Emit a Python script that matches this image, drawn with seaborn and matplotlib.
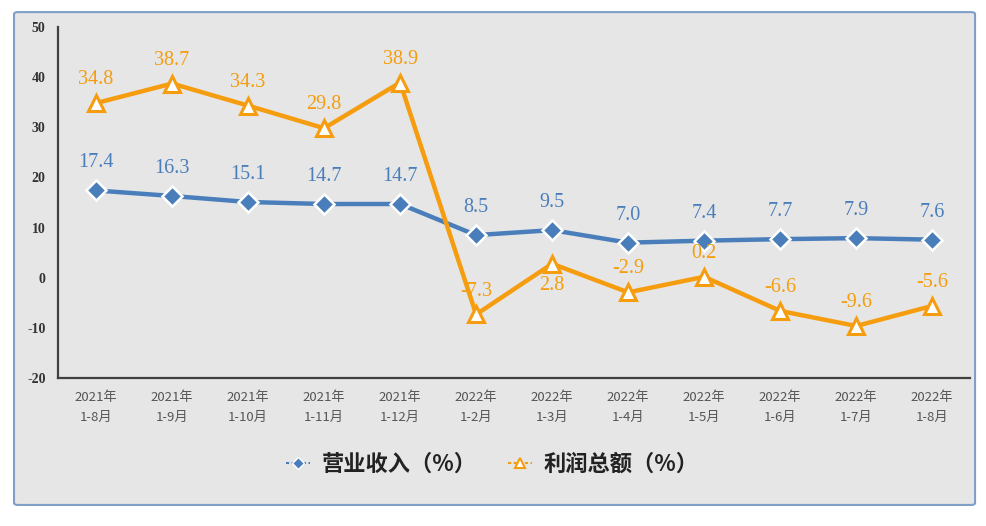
import matplotlib
matplotlib.use("Agg")
import matplotlib.pyplot as plt
import seaborn as sns
import pandas as pd
from matplotlib.patches import FancyBboxPatch
from matplotlib.lines import Line2D

# ------------------------------
# Données
periods = ["2021年\n1-8月", "2021年\n1-9月", "2021年\n1-10月", "2021年\n1-11月", "2021年\n1-12月",
           "2022年\n1-2月", "2022年\n1-3月", "2022年\n1-4月", "2022年\n1-5月", "2022年\n1-6月",
           "2022年\n1-7月", "2022年\n1-8月"]
revenue = [17.4, 16.3, 15.1, 14.7, 14.7, 8.5, 9.5, 7.0, 7.4, 7.7, 7.9, 7.6]
profit = [34.8, 38.7, 34.3, 29.8, 38.9, -7.3, 2.8, -2.9, 0.2, -6.6, -9.6, -5.6]
series_names = ["营业收入（%）", "利润总额（%）"]
y_ticks = [-20, -10, 0, 10, 20, 30, 40, 50]

blue = "#4a7ebb"
orange = "#f59d0e"
bg = "#e6e6e6"

sns.set_theme(style="white")
plt.rcParams['font.family'] = ['Noto Sans CJK SC', 'DejaVu Sans']

df = pd.DataFrame({"x": list(range(len(periods))) * 2,
                   "val": revenue + profit,
                   "serie": [series_names[0]] * len(periods) + [series_names[1]] * len(periods)})

fig = plt.figure(figsize=(9.87, 5.26), dpi=100)
fig.patch.set_facecolor("white")
frame = FancyBboxPatch((0.0142, 0.04), 0.9737, 0.937, boxstyle="round,pad=0,rounding_size=0.004",
                       transform=fig.transFigure, facecolor=bg, edgecolor="#7f9fc9", linewidth=1.5,
                       zorder=-10)
fig.patches.append(frame)

ax = fig.add_axes([0.0588, 0.281, 0.9242, 0.668])
ax.set_facecolor("none")
ax.set_zorder(2)

sns.lineplot(data=df[df.serie == series_names[0]], x="x", y="val", color=blue, linewidth=3.2,
             marker="D", markersize=10, markerfacecolor=blue, markeredgecolor="white",
             markeredgewidth=1.8, ax=ax, legend=False, zorder=3)
sns.lineplot(data=df[df.serie == series_names[1]], x="x", y="val", color=orange, linewidth=3.2,
             marker="^", markersize=12, markerfacecolor="white", markeredgecolor=orange,
             markeredgewidth=2.2, ax=ax, legend=False, zorder=3)

# Étiquettes de valeurs
for i, v in enumerate(revenue):
    ax.annotate(f"{v:.1f}", (i, v), xytext=(0, 13), textcoords="offset points", ha="center",
                va="bottom", color=blue, fontsize=14.5, family="Liberation Serif")
for i, v in enumerate(profit):
    dy = -9 if i == 6 else 10
    va = "top" if i == 6 else "bottom"
    ax.annotate(f"{v:.1f}", (i, v), xytext=(0, dy), textcoords="offset points", ha="center",
                va=va, color=orange, fontsize=14.5, family="Liberation Serif")

ax.set_xlim(-0.5, len(periods) - 0.5)
ax.set_ylim(-20, 50)
ax.set_yticks(y_ticks)
ax.set_yticklabels([str(t) for t in y_ticks], family="Liberation Serif", fontweight="bold",
                   fontsize=10, color="#333333")
ax.set_xticks(range(len(periods)))
ax.set_xticklabels(periods, fontsize=9.5, color="#555555", linespacing=1.75)
ax.tick_params(axis="y", length=0, pad=9)
ax.tick_params(axis="x", length=0, pad=9)
ax.set_xlabel("")
ax.set_ylabel("")
for s in ["top", "right"]:
    ax.spines[s].set_visible(False)
for s in ["left", "bottom"]:
    ax.spines[s].set_color("#404040")
    ax.spines[s].set_linewidth(1.6)

handles = [Line2D([0], [0], color=blue, linestyle=(0, (1.5, 1.2)), linewidth=1.5, marker="D",
                  markersize=6, markerfacecolor=blue, markeredgecolor="white"),
           Line2D([0], [0], color=orange, linestyle=(0, (1.5, 1.2)), linewidth=1.5, marker="^",
                  markersize=7, markerfacecolor="white", markeredgecolor=orange, markeredgewidth=1.5)]
fig.legend(handles, series_names, loc="center", bbox_to_anchor=(0.4985, 0.118), ncol=2, frameon=False,
           prop={"family": "Noto Sans CJK SC", "weight": "bold", "size": 16}, handlelength=1.1,
           columnspacing=1.4, handletextpad=0.5, labelcolor="#222222")

fig.savefig("out.png", dpi=100)
